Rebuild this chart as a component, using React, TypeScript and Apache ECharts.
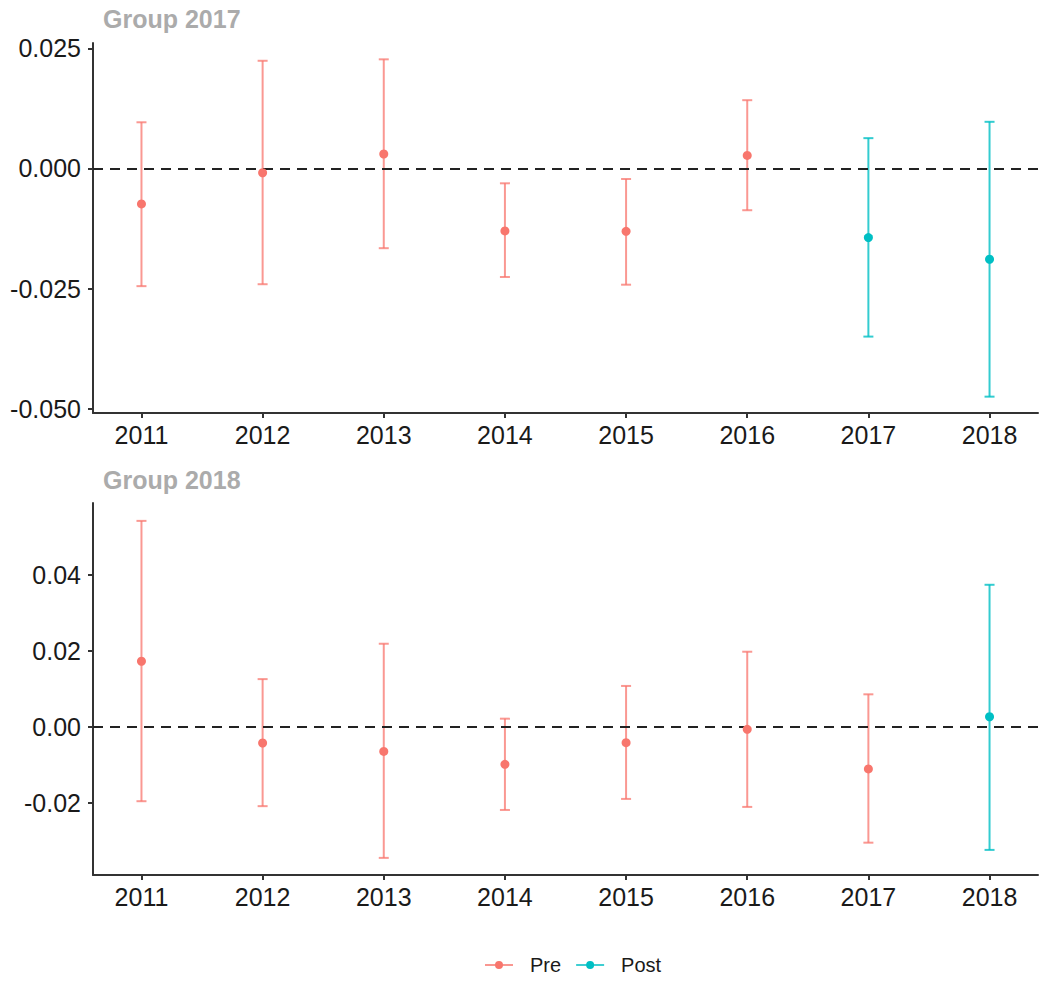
import React, { useEffect, useRef } from "react";
import * as echarts from "echarts";

const years = [2011, 2012, 2013, 2014, 2015, 2016, 2017, 2018];

const g2017Period = ["Pre", "Pre", "Pre", "Pre", "Pre", "Pre", "Post", "Post"];
const g2017Est = [-0.0074, -0.0009, 0.003, -0.013, -0.0131, 0.0027, -0.0144, -0.0189];
const g2017Lo = [-0.0245, -0.0241, -0.0166, -0.0226, -0.0242, -0.0087, -0.035, -0.0475];
const g2017Hi = [0.0096, 0.0224, 0.0227, -0.0031, -0.0022, 0.0142, 0.0063, 0.0097];

const g2018Period = ["Pre", "Pre", "Pre", "Pre", "Pre", "Pre", "Pre", "Post"];
const g2018Est = [0.0172, -0.0043, -0.0065, -0.0099, -0.0042, -0.0007, -0.0111, 0.0026];
const g2018Lo = [-0.0196, -0.0209, -0.0345, -0.0219, -0.019, -0.0211, -0.0305, -0.0324];
const g2018Hi = [0.0541, 0.0125, 0.0218, 0.0021, 0.0107, 0.0197, 0.0085, 0.0373];

const g2017Ticks = [-0.05, -0.025, 0, 0.025];
const g2018Ticks = [-0.02, 0, 0.02, 0.04];

const PRE = "#F8766D";
const POST = "#00BFC4";
const PRE_BAR = "rgba(248,118,109,0.75)";
const POST_BAR = "rgba(0,191,196,0.8)";
const FONT = "Liberation Sans, Arial, sans-serif";

function errorBarSeries(gridIdx: number, lo: number[], hi: number[], period: string[]) {
  return {
    type: "custom",
    name: "ci" + gridIdx,
    xAxisIndex: gridIdx,
    yAxisIndex: gridIdx,
    z: 2,
    silent: true,
    encode: { x: 0, y: [1, 2] },
    data: years.map((y, i) => [y, lo[i], hi[i], period[i] === "Post" ? 1 : 0]),
    renderItem: (params: any, api: any) => {
      const x = api.value(0);
      const a = api.coord([x, api.value(1)]);
      const b = api.coord([x, api.value(2)]);
      const color = api.value(3) === 1 ? POST_BAR : PRE_BAR;
      const w = 5;
      const style = { stroke: color, lineWidth: 2, fill: "none" };
      return {
        type: "group",
        children: [
          { type: "line", shape: { x1: a[0], y1: a[1], x2: b[0], y2: b[1] }, style },
          { type: "line", shape: { x1: a[0] - w, y1: a[1], x2: a[0] + w, y2: a[1] }, style },
          { type: "line", shape: { x1: b[0] - w, y1: b[1], x2: b[0] + w, y2: b[1] }, style },
        ],
      };
    },
  };
}

function pointSeries(gridIdx: number, name: string, est: number[], period: string[], color: string, withLine: boolean) {
  const s: any = {
    type: "scatter",
    name,
    xAxisIndex: gridIdx,
    yAxisIndex: gridIdx,
    z: 4,
    symbol: "circle",
    symbolSize: 9,
    itemStyle: { color, opacity: 1 },
    data: years.map((y, i) => (period[i] === name ? [y, est[i]] : null)).filter((d) => d !== null),
  };
  if (withLine) {
    s.markLine = {
      silent: true,
      symbol: ["none", "none"],
      label: { show: false },
      z: 3,
      lineStyle: { color: "#222", width: 2, type: [10, 7], opacity: 1 },
      data: [{ yAxis: 0 }],
    };
  }
  return s;
}

function xAxis(gridIdx: number) {
  return {
    type: "value",
    gridIndex: gridIdx,
    min: 2010.6,
    max: 2018.4,
    splitLine: { show: false },
    axisLine: { show: true, onZero: false, lineStyle: { color: "#333", width: 2 } },
    axisTick: { show: true, length: 5, customValues: years, lineStyle: { color: "#333", width: 2 } },
    axisLabel: {
      customValues: years,
      formatter: (v: number) => String(Math.round(v)),
      color: "#1a1a1a",
      fontSize: 25,
      fontFamily: FONT,
      margin: 9,
    },
  };
}

function yAxis(gridIdx: number, min: number, max: number, ticks: number[], digits: number) {
  return {
    type: "value",
    gridIndex: gridIdx,
    min,
    max,
    splitLine: { show: false },
    axisLine: { show: true, onZero: false, lineStyle: { color: "#333", width: 2 } },
    axisTick: { show: true, length: 5, customValues: ticks, lineStyle: { color: "#333", width: 2 } },
    axisLabel: {
      customValues: ticks,
      formatter: (v: number) => v.toFixed(digits),
      color: "#1a1a1a",
      fontSize: 25,
      fontFamily: FONT,
      margin: 12,
    },
  };
}

export default function App() {
  const ref = useRef<HTMLDivElement>(null);
  useEffect(() => {
    if (!ref.current) return;
    const chart = echarts.init(ref.current, null, { renderer: "svg" });
    const option: any = {
      animation: false,
      backgroundColor: "#ffffff",
      title: [
        {
          text: "Group 2017",
          left: 103,
          top: 6,
          padding: 0,
          textStyle: { color: "#ababab", fontSize: 25, fontWeight: "bold", fontFamily: FONT },
        },
        {
          text: "Group 2018",
          left: 103,
          top: 467,
          padding: 0,
          textStyle: { color: "#ababab", fontSize: 25, fontWeight: "bold", fontFamily: FONT },
        },
      ],
      legend: {
        data: ["Pre", "Post"],
        left: 485,
        top: 955,
        padding: 0,
        itemWidth: 28,
        itemHeight: 8,
        itemGap: 15,
        icon: "path://M0,3.2 L28,3.2 L28,4.8 L0,4.8 Z M10,4 A4,4 0 1,1 18,4 A4,4 0 1,1 10,4 Z",
        textStyle: { color: "#1a1a1a", fontSize: 20, fontFamily: FONT, padding: [0, 0, 0, 12] },
      },
      grid: [
        { left: 93, top: 43, width: 945, height: 370 },
        { left: 93, top: 503, width: 945, height: 372 },
      ],
      xAxis: [xAxis(0), xAxis(1)],
      yAxis: [
        yAxis(0, -0.0509, 0.0261, g2017Ticks, 3),
        yAxis(1, -0.039, 0.0588, g2018Ticks, 2),
      ],
      series: [
        errorBarSeries(0, g2017Lo, g2017Hi, g2017Period),
        pointSeries(0, "Pre", g2017Est, g2017Period, PRE, true),
        pointSeries(0, "Post", g2017Est, g2017Period, POST, false),
        errorBarSeries(1, g2018Lo, g2018Hi, g2018Period),
        pointSeries(1, "Pre", g2018Est, g2018Period, PRE, true),
        pointSeries(1, "Post", g2018Est, g2018Period, POST, false),
      ],
    };
    chart.setOption(option);
    return () => chart.dispose();
  }, []);
  return (
    <div
      ref={ref}
      style={{ position: "absolute", left: 0, top: 0, width: 1050, height: 985, background: "#fff" }}
    />
  );
}
